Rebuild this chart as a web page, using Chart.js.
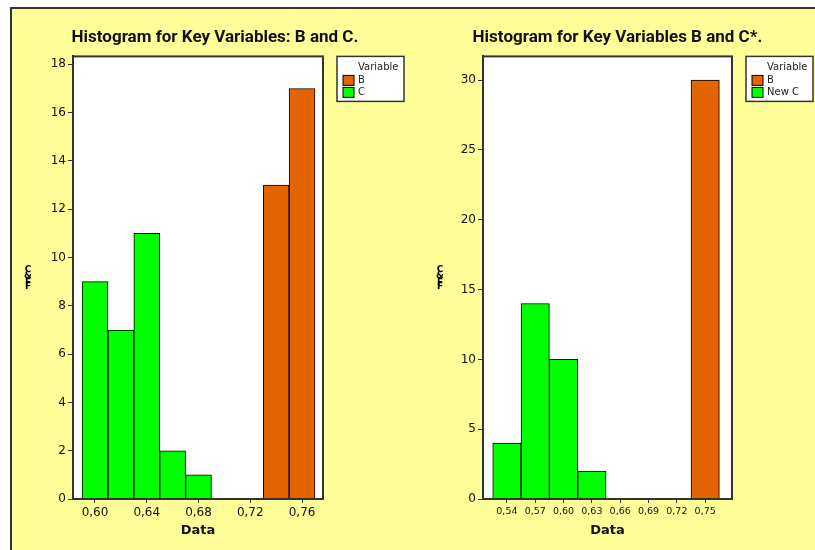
<!DOCTYPE html>
<html>
<head>
<meta charset="utf-8">
<script src="https://cdn.jsdelivr.net/npm/chart.js@4"></script>
<style>
  body { margin: 0; background: #fff; width: 815px; height: 550px; overflow: hidden; position: relative; }
  .frame { position: absolute; left: 10px; top: 7px; width: 820px; height: 560px; background: #ffff99; border-left: 2px solid #333; border-top: 2px solid #333; }
  #left { position: absolute; left: 10px; top: 7px; }
  #right { position: absolute; left: 420px; top: 7px; }
</style>
</head>
<body>
<div class="frame"></div>
<canvas id="left" width="410" height="543"></canvas>
<canvas id="right" width="395" height="543"></canvas>
<script>
// left histogram: B and C
const leftCBins = [0.60, 0.62, 0.64, 0.66, 0.68];
const leftC = [9, 7, 11, 2, 1];
const leftBBins = [0.74, 0.76];
const leftB = [13, 17];
const leftXTicks = [0.60, 0.64, 0.68, 0.72, 0.76];
const leftYTicks = [0, 2, 4, 6, 8, 10, 12, 14, 16, 18];

// right histogram: B and new C
const rightCBins = [0.54, 0.57, 0.60, 0.63];
const rightC = [4, 14, 10, 2];
const rightBBins = [0.75];
const rightB = [30];
const rightXTicks = [0.54, 0.57, 0.60, 0.63, 0.66, 0.69, 0.72, 0.75];
const rightYTicks = [0, 5, 10, 15, 20, 25, 30];

const orange = '#e36400';
const green = '#00ff00';
const dark = '#333';

function pts(xs, ys) {
  return xs.map((x, i) => ({ x: x, y: ys[i] }));
}

// white plot box with dark border
const plotBox = {
  id: 'plotBox',
  beforeDraw(chart) {
    const a = chart.chartArea, c = chart.ctx;
    c.save();
    c.fillStyle = '#fff';
    c.fillRect(a.left, a.top, a.right - a.left, a.bottom - a.top);
    c.restore();
  },
  afterDatasetsDraw(chart) {
    const a = chart.chartArea, c = chart.ctx;
    c.save();
    c.strokeStyle = dark;
    c.lineWidth = 2;
    c.strokeRect(a.left, a.top, a.right - a.left, a.bottom - a.top);
    c.restore();
  }
};

// minitab style legend box + squashed y label
const sideBits = {
  id: 'sideBits',
  afterDraw(chart) {
    const a = chart.chartArea, c = chart.ctx;
    const x0 = a.right + 14, y0 = a.top;
    c.save();
    c.fillStyle = '#fff';
    c.fillRect(x0, y0, 67, 45);
    c.strokeStyle = dark;
    c.lineWidth = 1.5;
    c.strokeRect(x0, y0, 67, 45);
    c.font = '10px "DejaVu Sans"';
    c.textBaseline = 'middle';
    c.fillStyle = '#222';
    c.fillText('Variable', x0 + 21, y0 + 11);
    chart.data.datasets.forEach((ds, i) => {
      const y = y0 + 19 + i * 12;
      c.fillStyle = ds.backgroundColor;
      c.fillRect(x0 + 6, y, 11, 10);
      c.strokeStyle = '#000';
      c.lineWidth = 1;
      c.strokeRect(x0 + 6, y, 11, 10);
      c.fillStyle = '#222';
      c.fillText(ds.label, x0 + 21, y + 5);
    });
    // y axis label
    c.fillStyle = '#000';
    c.font = 'bold 9px "DejaVu Sans"';
    c.textAlign = 'center';
    const lx = chart.options.yLabelX;
    c.fillText('C', lx, 263);
    c.fillText('&', lx, 269);
    c.fillText('F', lx, 276);
    c.fillText('F', lx, 280);
    c.restore();
  }
};

function makeChart(id, title, cBins, cVals, bBins, bVals, cLabel, xTicks, yTicks, xMin, xMax, yMax, rightW, xFont, yLabelX) {
  return new Chart(document.getElementById(id), {
    type: 'bar',
    data: {
      datasets: [
        { label: 'B', data: pts(bBins, bVals), backgroundColor: orange, borderColor: '#000', borderWidth: 1 },
        { label: cLabel, data: pts(cBins, cVals), backgroundColor: green, borderColor: '#000', borderWidth: 1 }
      ]
    },
    plugins: [plotBox, sideBits],
    options: {
      responsive: false,
      animation: false,
      yLabelX: yLabelX,
      layout: { padding: 0 },
      datasets: { bar: { barPercentage: 1, categoryPercentage: 1, grouped: false } },
      plugins: {
        legend: { display: false },
        tooltip: { enabled: false },
        title: {
          display: true,
          text: title,
          color: '#111',
          font: { family: 'Roboto', size: 17, weight: 'bold' },
          padding: { top: 21, bottom: 8 }
        }
      },
      scales: {
        x: {
          type: 'linear',
          min: xMin,
          max: xMax,
          offset: false,
          grid: { offset: false, drawOnChartArea: false, tickLength: 4, color: dark, lineWidth: 1 },
          border: { color: dark, width: 2 },
          afterBuildTicks: s => { s.ticks = xTicks.map(v => ({ value: v })); },
          afterFit: s => { s.height = 51; },
          ticks: {
            autoSkip: false, maxRotation: 0, padding: 3, color: '#111',
            font: { family: 'DejaVu Sans', size: xFont },
            callback: v => v.toFixed(2).replace('.', ',')
          },
          title: {
            display: true, text: 'Data', color: '#111',
            font: { family: 'DejaVu Sans', size: 13, weight: 'bold' },
            padding: { top: 0, bottom: 12 }
          }
        },
        y: {
          min: 0,
          max: yMax,
          grid: { drawOnChartArea: false, tickLength: 5, color: dark, lineWidth: 1 },
          border: { color: dark, width: 2 },
          afterBuildTicks: s => { s.ticks = yTicks.map(v => ({ value: v })); },
          afterFit: s => { s.width = 63; },
          ticks: { padding: 2, color: '#111', font: { family: 'DejaVu Sans', size: 12 } }
        },
        side: {
          position: 'right',
          min: 0,
          max: 1,
          grid: { display: false },
          border: { display: false },
          ticks: { display: false },
          afterFit: s => { s.width = rightW; }
        }
      }
    }
  });
}

makeChart('left', 'Histogram for Key Variables: B and C.', leftCBins, leftC, leftBBins, leftB, 'C',
  leftXTicks, leftYTicks, 0.583, 0.7762, 18.33, 97, 12, 18);
makeChart('right', 'Histogram for Key Variables B and C*.', rightCBins, rightC, rightBBins, rightB, 'New C',
  rightXTicks, rightYTicks, 0.5147, 0.7784, 31.7, 83, 9.5, 20);
</script>
</body>
</html>
